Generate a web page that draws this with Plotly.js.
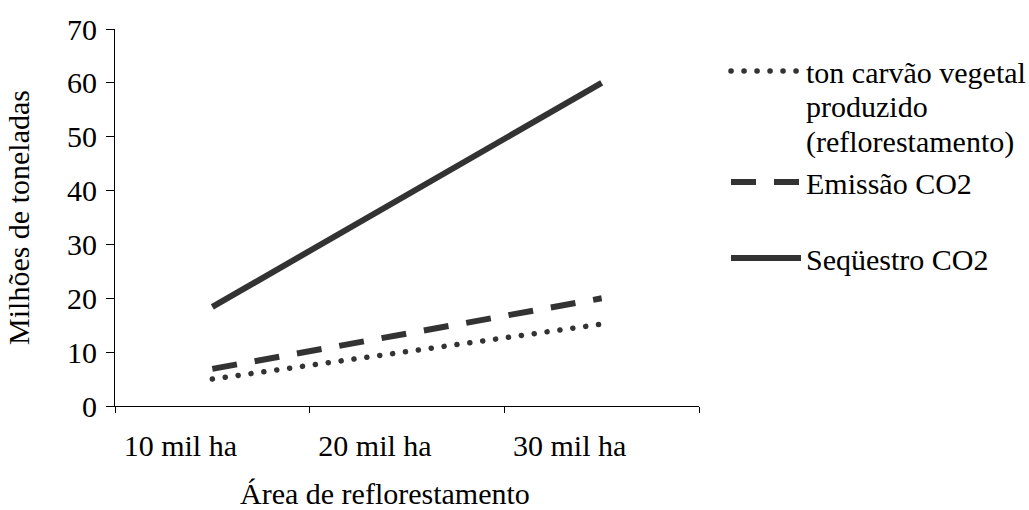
<!DOCTYPE html>
<html>
<head>
<meta charset="utf-8">
<script src="https://cdn.plot.ly/plotly-3.0.1.min.js"></script>
<style>
  html, body { margin: 0; padding: 0; background: #ffffff; }
  #chart { width: 1029px; height: 510px; }
  /* round caps so the dotted series renders as round dots */
  .scatterlayer .trace:nth-child(1) path.js-line,
  .legend .js-line { stroke-linecap: round; }
</style>
</head>
<body>
<div id="chart"></div>
<script>
// Reforestation area categories
const categories = ['10 mil ha', '20 mil ha', '30 mil ha'];

// Millions of tonnes per series
const carvaoVegetal = [5.0, 10.1, 15.2];
const emissaoCO2 = [6.9, 13.4, 20.0];
const sequestroCO2 = [18.4, 39.2, 60.0];

const seriesNames = [
  'ton carvão vegetal<br>produzido<br>(reflorestamento)',
  'Emissão CO2',
  'Seqüestro CO2'
];

const yTicks = [0, 10, 20, 30, 40, 50, 60, 70];
const xTitle = 'Área de reflorestamento';
const yTitle = 'Milhões de toneladas';

const FONT = 'Liberation Serif';
const INK = '#333333';

const traces = [
  {
    x: categories, y: carvaoVegetal, name: seriesNames[0],
    type: 'scatter', mode: 'lines', legend: 'legend',
    line: { color: INK, width: 5.5, dash: '0.1px,12.9px' }
  },
  {
    x: categories, y: emissaoCO2, name: seriesNames[1],
    type: 'scatter', mode: 'lines', legend: 'legend2',
    line: { color: INK, width: 6, dash: '25px,18px' }
  },
  {
    x: categories, y: sequestroCO2, name: seriesNames[2],
    type: 'scatter', mode: 'lines', legend: 'legend3',
    line: { color: INK, width: 6 }
  }
];

const legendBase = {
  xref: 'container', yref: 'container',
  xanchor: 'left', yanchor: 'top',
  bgcolor: 'rgba(0,0,0,0)', borderwidth: 0,
  itemwidth: 70, valign: 'top',
  font: { family: FONT, size: 30, color: '#000000' }
};

const layout = {
  width: 1029, height: 510,
  margin: { l: 115, r: 330, t: 29, b: 104 },
  paper_bgcolor: '#ffffff', plot_bgcolor: '#ffffff',
  font: { family: FONT, size: 30, color: '#000000' },
  showlegend: true,
  xaxis: {
    type: 'category',
    range: [-0.5, 2.5],
    tickson: 'boundaries',
    ticks: 'outside', ticklen: 6, tickwidth: 1, tickcolor: '#000000',
    ticklabelshift: -32,
    ticklabelstandoff: 13,
    showline: true, linecolor: '#000000', linewidth: 1,
    showgrid: false, zeroline: false,
    tickfont: { family: FONT, size: 30, color: '#000000' }
  },
  yaxis: {
    range: [0, 70],
    tickvals: yTicks,
    ticks: 'outside', ticklen: 8, tickwidth: 1, tickcolor: '#000000',
    ticklabelstandoff: 3,
    showline: true, linecolor: '#000000', linewidth: 1,
    showgrid: false, zeroline: false,
    tickfont: { family: FONT, size: 30, color: '#000000' },
    title: { text: yTitle, font: { family: FONT, size: 30, color: '#000000' }, standoff: 28 }
  },
  // x-axis title sits slightly left of the axis centre, in line with the shifted tick labels
  annotations: [{
    text: xTitle, showarrow: false,
    xref: 'paper', yref: 'paper',
    x: (385 - 115) / 584, y: (406 - 493) / 377,
    xanchor: 'center', yanchor: 'middle',
    font: { family: FONT, size: 30, color: '#000000' }
  }],
  legend: Object.assign({}, legendBase, { x: 726 / 1029, y: 1 - 45 / 510 }),
  legend2: Object.assign({}, legendBase, { x: 726 / 1029, y: 1 - 156 / 510 }),
  legend3: Object.assign({}, legendBase, { x: 726 / 1029, y: 1 - 232 / 510 })
};

Plotly.newPlot('chart', traces, layout, { staticPlot: true, displayModeBar: false })
  .then(function (gd) {
    // tighten the line spacing of the multi-line legend entry
    gd.querySelectorAll('.legendtext tspan.line').forEach(function (t) {
      const dy = parseFloat(t.getAttribute('dy') || '0');
      if (dy) t.setAttribute('dy', (dy / 1.3 * 1.15) + 'em');
    });
  });
</script>
</body>
</html>
